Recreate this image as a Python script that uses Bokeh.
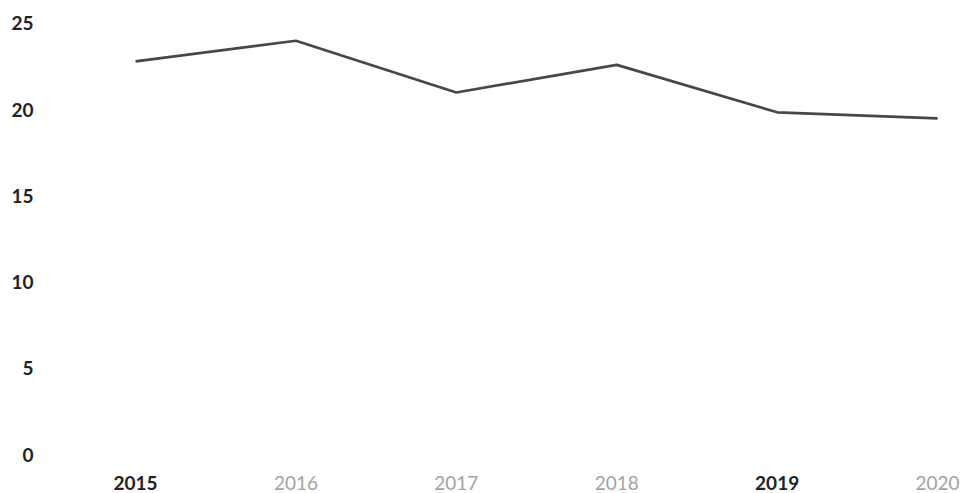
from bokeh.plotting import figure
from bokeh.models import Range1d, FixedTicker, ColumnDataSource
from bokeh.embed import file_html
from bokeh.resources import INLINE
from bokeh.core.properties import value

# Data
years = [2015, 2016, 2017, 2018, 2019, 2020]
year_labels = ["2015", "2016", "2017", "2018", "2019", "2020"]
values = [22.8, 24.0, 21.0, 22.6, 19.85, 19.5]
y_ticks = [0, 5, 10, 15, 20, 25]

# Styles for x labels (as in the scanned original)
label_colors = ["#222222", "#a3a3a3", "#a3a3a3", "#a3a3a3", "#222222", "#a3a3a3"]
label_styles = ["bold", "normal", "normal", "normal", "bold", "normal"]

p = figure(width=964, height=493, output_backend="svg", toolbar_location=None,
           x_range=Range1d(2014.470, 2020.168), y_range=Range1d(-2.262, 25.754),
           min_border_left=50, min_border_right=0, min_border_top=10, min_border_bottom=0)
p.outline_line_color = None
p.xgrid.visible = False
p.ygrid.visible = False
p.xaxis.visible = False
p.background_fill_color = "white"
p.border_fill_color = "white"

ya = p.yaxis[0]
ya.ticker = FixedTicker(ticks=y_ticks)
ya.axis_line_color = None
ya.major_tick_line_color = None
ya.minor_tick_line_color = None
ya.major_tick_out = 0
ya.major_label_standoff = 17
ya.major_label_text_font = "Lato"
ya.major_label_text_font_size = "19px"
ya.major_label_text_color = "#222222"
ya.major_label_text_font_style = "bold"

p.line(years, values, line_color="#474747", line_width=2.7)

src = ColumnDataSource(dict(x=years, y=[0] * len(years), t=year_labels,
                            c=label_colors, s=label_styles))
p.text(x="x", y="y", text="t", source=src, text_color="c", text_font_style="s",
       text_font=value("Lato"), text_font_size="19px", text_align="center",
       text_baseline="middle", y_offset=28)

open("out.html", "w").write(file_html(p, INLINE))
